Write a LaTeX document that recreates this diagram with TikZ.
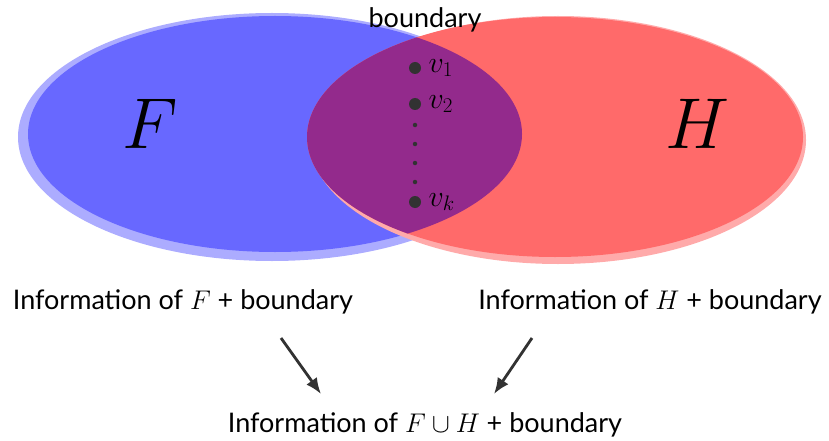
\RequirePackage{fix-cm}
\documentclass[tikz,border=0pt]{standalone}
\usepackage{fontspec}
\setmainfont{Lato}
\usetikzlibrary{arrows.meta}
\definecolor{fblue}{RGB}{104,104,255}
\definecolor{fbluehalo}{RGB}{172,172,255}
\definecolor{hred}{RGB}{255,106,106}
\definecolor{hredhalo}{RGB}{255,170,170}
\definecolor{overlap}{RGB}{147,42,140}
\definecolor{dotgray}{RGB}{50,50,50}
\tikzset{
  info/.style={font=\fontsize{27}{32}\selectfont},
  vdot/.style={circle,fill=dotgray,inner sep=0pt,minimum size=12pt},
  sdot/.style={circle,fill=dotgray,inner sep=0pt,minimum size=4.5pt},
  vlabel/.style={font=\fontsize{30}{34}\selectfont,label distance=4pt},
  arr/.style={-{Latex[length=16pt,width=13pt]},line width=2.8pt,draw=dotgray}
}
\begin{document}
\begin{tikzpicture}[x=1pt,y=-1pt]
  \useasboundingbox (0,0) rectangle (829,441);
  % the two sets
  \fill[fbluehalo] (272,137) ellipse [x radius=254,y radius=124];
  \fill[fblue] (275,134) ellipse [x radius=247,y radius=118];
  \fill[hredhalo] (558,140) ellipse [x radius=248,y radius=124];
  \fill[hred] (555,137) ellipse [x radius=248,y radius=120];
  \begin{scope}
    \clip (275,134) ellipse [x radius=247,y radius=118];
    \fill[overlap] (555,137) ellipse [x radius=248,y radius=120];
  \end{scope}
  \node[font=\fontsize{72}{80}\selectfont] (F) at (150,124) {$F$};
  \node[font=\fontsize{72}{80}\selectfont] (H) at (697,124) {$H$};
  % boundary vertices
  \node[info] (bd) at (425,20) {boundary};
  \node[vdot,label={[vlabel]right:$v_1$}] (v1) at (415,68) {};
  \node[vdot,label={[vlabel]right:$v_2$}] (v2) at (415,104) {};
  \foreach \y in {125,144,163,182}
    \node[sdot] at (415,\y) {};
  \node[vdot,label={[vlabel]right:$v_k$}] (vk) at (415,202) {};
  % information
  \node[info] (infoF) at (183,302) {Information of $F$ + boundary};
  \node[info] (infoH) at (650,302) {Information of $H$ + boundary};
  \node[info] (infoFH) at (425,425) {Information of $F\cup H$ + boundary};
  \coordinate (a1s) at (281,338);
  \coordinate (a1e) at (321,394);
  \coordinate (a2s) at (532,338);
  \coordinate (a2e) at (494,394);
  \draw[arr] (a1s) -- (a1e);
  \draw[arr] (a2s) -- (a2e);
\end{tikzpicture}
\end{document}
